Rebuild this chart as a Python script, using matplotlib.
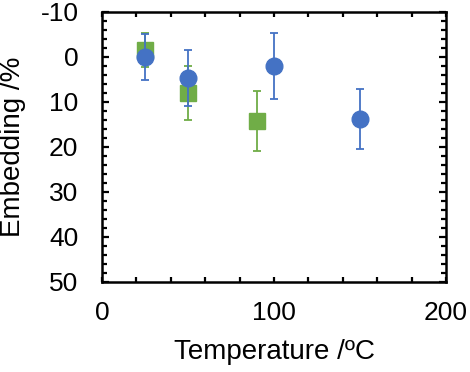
import matplotlib
matplotlib.use("Agg")
import matplotlib.pyplot as plt
from matplotlib.ticker import MultipleLocator

plt.rcParams["font.family"] = ["Liberation Sans", "DejaVu Sans"]
plt.rcParams["axes.unicode_minus"] = False

# ==================================
# Data
# ==================================

green_temp = [25, 50, 90]
green_embed = [-1.5, 8.0, 14.2]
green_err = [3.8, 6.0, 6.6]

blue_temp = [25, 50, 100, 150]
blue_embed = [0.0, 4.7, 2.0, 13.8]
blue_err = [5.1, 6.2, 7.3, 6.7]

GREEN = "#70AD47"
BLUE = "#4472C4"

# ==================================
# Figure
# ==================================

fig = plt.figure(figsize=(4.70, 3.72), dpi=100)
ax = fig.add_axes([0.217, 0.242, 0.732, 0.726])

ax.errorbar(
    green_temp, green_embed, yerr=green_err,
    fmt="s", color=GREEN, ms=12, elinewidth=1.3,
    capsize=3, capthick=1.3, zorder=3
)
ax.errorbar(
    blue_temp, blue_embed, yerr=blue_err,
    fmt="o", color=BLUE, ms=12, elinewidth=1.3,
    capsize=3, capthick=1.3, zorder=4
)

ax.set_xlim(0, 200)
ax.set_ylim(50, -10)
ax.xaxis.set_major_locator(MultipleLocator(100))
ax.xaxis.set_minor_locator(MultipleLocator(20))
ax.yaxis.set_major_locator(MultipleLocator(10))
ax.yaxis.set_minor_locator(MultipleLocator(2))

ax.tick_params(which="both", direction="in", top=True, right=True,
               width=1.6, labelsize=19)
ax.tick_params(axis="y", which="major", length=5.2, pad=17)
ax.tick_params(axis="y", which="minor", length=3.6)
ax.tick_params(axis="x", which="both", length=3.6, pad=14)

for s in ax.spines.values():
    s.set_linewidth(1.8)

ax.set_xlabel("Temperature /ºC", fontsize=20, labelpad=10)
ax.set_ylabel("Embedding /%", fontsize=20, labelpad=10)

fig.savefig("out.png", dpi=100)
